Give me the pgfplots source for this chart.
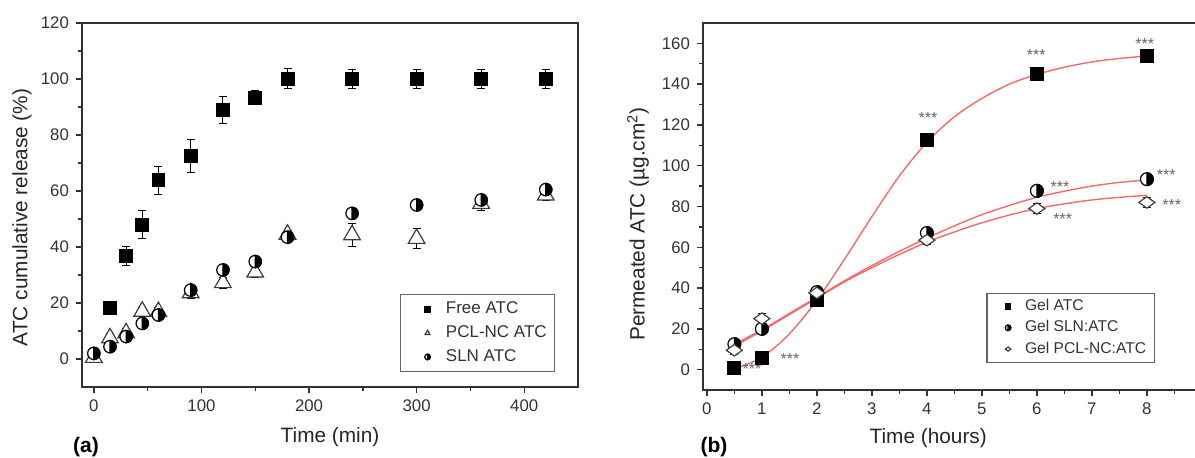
\documentclass[border=0pt]{standalone}
\usepackage{fontspec}
\setmainfont{Liberation Sans}
\usepackage{pgfplots}
\usepackage{pgfplotstable}
\pgfplotsset{compat=1.18}
\usetikzlibrary{plotmarks}

\definecolor{axgray}{RGB}{50,50,50}
\definecolor{fitred}{RGB}{245,105,105}
\definecolor{mkgray}{RGB}{60,60,60}

\pgfdeclareplotmark{halfcirc}{%
  \pgfpathcircle{\pgfpointorigin}{\pgfplotmarksize}%
  \pgfsetfillcolor{white}%
  \pgfusepathqfillstroke
  \pgfpathmoveto{\pgfqpoint{0pt}{\pgfplotmarksize}}%
  \pgfpatharc{90}{-90}{\pgfplotmarksize}%
  \pgfpathclose
  \pgfsetfillcolor{black}%
  \pgfusepathqfillstroke
}
\pgfdeclareplotmark{wdiamond}{%
  \pgfpathmoveto{\pgfqpoint{\pgfplotmarksize}{0pt}}%
  \pgfpathlineto{\pgfqpoint{0pt}{.72\pgfplotmarksize}}%
  \pgfpathlineto{\pgfqpoint{-\pgfplotmarksize}{0pt}}%
  \pgfpathlineto{\pgfqpoint{0pt}{-.72\pgfplotmarksize}}%
  \pgfpathclose
  \pgfsetfillcolor{white}%
  \pgfusepathqfillstroke
}

% ---------- panel (a) data ----------
\pgfplotstableread{
t y e
15 18.2 0.8
30 36.8 3.3
45 47.9 5
60 63.9 5
90 72.5 6
120 88.9 4.8
150 93.3 2.5
180 100.1 3.5
240 100 3.5
300 100 3.5
360 100 3.5
420 100 3.5
}\freeatc
\pgfplotstableread{
t y e
0 0.5 1.5
15 7.5 1.5
30 9.3 1.5
45 17 1.5
60 16.9 1.5
90 23.6 2
120 27.2 2
150 31 2
180 44.5 1.5
240 44.3 4
300 43 3.5
360 55.5 2.5
420 58.5 2
}\pclatc
\pgfplotstableread{
t y
0 2
15 4.4
30 8
45 12.7
60 15.7
90 24.6
120 31.8
150 34.8
180 43.5
240 52
300 55
360 56.8
420 60.5
}\slnatc

% ---------- panel (b) data ----------
\pgfplotstableread{
t y e
0.5 0.8 1
1 5.7 1
2 34 1.5
4 112.9 1.5
6 145 1.5
8 153.8 1.5
}\gelatc
\pgfplotstableread{
t y e
0.5 12.5 1.5
1 20 1.5
2 38 1.5
4 67 1.5
6 87.7 2
8 93.4 1.5
}\gelsln
\pgfplotstableread{
t y e
0.5 9.5 2
1 25 2.5
2 37.6 2
4 63.5 2
6 79 2.5
8 82 2.5
}\gelpcl
\pgfplotstableread{
t y
0.5 0.3
1 6
1.5 17.5
2 34
2.5 54
3 75
3.5 95
4 111.5
4.5 124
5 133
5.5 140
6 144.8
6.5 148.3
7 150.9
7.5 152.6
8 153.8
}\fitatc
\pgfplotstableread{
t y
0.5 12.5
1 19.5
1.5 27.5
2 35.5
2.5 43.5
3 51
3.5 58
4 64.5
4.5 70.5
5 76
5.5 80.5
6 84.5
6.5 87.5
7 90
7.5 91.8
8 93
}\fitsln
\pgfplotstableread{
t y
0.5 11.5
1 19
1.5 27
2 35
2.5 43
3 50
3.5 56.5
4 62.5
4.5 67.5
5 72
5.5 75.8
6 79
6.5 81.3
7 83.2
7.5 84.5
8 85.5
}\fitpcl

\pgfplotsset{
  myaxis/.style={
    scale only axis,
    axis line style={axgray, line width=0.9pt},
    tick align=outside,
    xtick pos=bottom, ytick pos=left,
    major tick length=3pt, minor tick length=2pt,
    every tick/.style={axgray, line width=0.7pt},
    tick label style={font=\fontsize{8.4}{10}\selectfont, text=axgray},
    label style={font=\fontsize{10.4}{12}\selectfont, text=black!85},
    /pgf/number format/assume math mode=true,
    legend cell align=left,
    error bars/error bar style={black, line width=0.5pt},
    error bars/error mark options={rotate=90, mark size=2pt, black, line width=0.5pt},
  },
}
\tikzset{stars/.style={font=\fontsize{8}{9}\selectfont, text=black!60, yshift=-1.5pt, inner sep=0pt}}

\begin{document}
\begin{tikzpicture}
\path[use as bounding box] (0,0) rectangle (597.5pt,229pt);
\clip (0,0) rectangle (597.5pt,229pt);

% ===================== (a) =====================
\begin{axis}[myaxis,
  at={(41pt,35.5pt)}, anchor=south west,
  width=248pt, height=182pt,
  xmin=-11, xmax=450, ymin=-10, ymax=120,
  xtick={0,100,200,300,400}, minor x tick num=1,
  ytick={0,20,40,60,80,100,120}, minor y tick num=1,
  xlabel={Time (min)}, ylabel={ATC cumulative release (\%)},
  x label style={at={(axis description cs:0.5,-0.137)}, anchor=center},
  y label style={at={(axis description cs:-0.121,0.466)}, anchor=center},
  legend style={at={(0.641,0.255)}, anchor=north west, draw=black!60, line width=0.6pt,
    font=\fontsize{8.5}{10}\selectfont, text=black!80, inner xsep=2pt, inner ysep=1.5pt,
    row sep=0.5pt},
  legend image code/.code={%
    \path[draw=none, fill=none] (0pt,0pt) -- (18.7pt,0pt);
    \draw[#1, mark size=1.4pt] plot coordinates {(11.5pt,0pt)};},
]
\addplot[only marks, mark=square*, mark size=3.2pt, black,
  error bars/.cd, y dir=both, y explicit]
  table[x=t, y=y, y error=e]{\freeatc};
\addlegendentry{Free ATC}
\addplot[only marks, mark=triangle*, mark size=4.8pt, mkgray, line width=0.6pt,
  mark options={fill=white},
  error bars/.cd, y dir=both, y explicit]
  table[x=t, y=y, y error=e]{\pclatc};
\addlegendentry{PCL-NC ATC\hspace{3pt}}
\addplot[only marks, mark=halfcirc, mark size=3.1pt, black, line width=0.6pt]
  table[x=t, y=y]{\slnatc};
\addlegendentry{SLN ATC}
\end{axis}

% ===================== (b) =====================
\begin{axis}[myaxis,
  at={(351.5pt,34pt)}, anchor=south west,
  width=257.7pt, height=183.5pt,
  xmin=-0.07, xmax=9.3, ymin=-10, ymax=170,
  xtick={0,1,2,3,4,5,6,7,8,9}, minor x tick num=1,
  ytick={0,20,40,60,80,100,120,140,160}, minor y tick num=1,
  xlabel={Time (hours)}, ylabel={Permeated ATC (µg.cm\textsuperscript{2})},
  x label style={at={(axis description cs:0.437,-0.13)}, anchor=center},
  y label style={at={(axis description cs:-0.126,0.452)}, anchor=center},
  legend style={at={(0.55,0.265)}, anchor=north west, draw=black!60, line width=0.6pt,
    font=\fontsize{7.8}{9}\selectfont, text=black!80, inner xsep=2pt, inner ysep=1pt,
    row sep=-0.5pt},
  legend image code/.code={%
    \path[draw=none, fill=none] (0pt,0pt) -- (15pt,0pt);
    \draw[#1, mark size=1.4pt] plot coordinates {(8.5pt,0pt)};},
]
\addplot[only marks, mark=square*, mark size=3.25pt, black,
  error bars/.cd, y dir=both, y explicit]
  table[x=t, y=y, y error=e]{\gelatc};
\addlegendentry{Gel ATC}
\addplot[only marks, mark=halfcirc, mark size=3.2pt, black, line width=0.6pt,
  error bars/.cd, y dir=both, y explicit]
  table[x=t, y=y, y error=e]{\gelsln};
\addlegendentry{Gel SLN:ATC}
\addplot[only marks, mark=wdiamond, mark size=4pt, mkgray, line width=0.6pt,
  error bars/.cd, y dir=both, y explicit]
  table[x=t, y=y, y error=e]{\gelpcl};
\addlegendentry{Gel PCL-NC:ATC\hspace{8pt}}

\addplot[fitred, line width=0.7pt, smooth, no marks, forget plot] table[x=t, y=y]{\fitatc};
\addplot[fitred, line width=0.7pt, smooth, no marks, forget plot] table[x=t, y=y]{\fitsln};
\addplot[fitred, line width=0.7pt, smooth, no marks, forget plot] table[x=t, y=y]{\fitpcl};

\node[stars] at (axis cs:0.82,1.6) {***};
\node[stars] at (axis cs:1.51,6.5) {***};
\node[stars] at (axis cs:4.02,124.9) {***};
\node[stars] at (axis cs:5.99,155.6) {***};
\node[stars] at (axis cs:7.96,161) {***};
\node[stars] at (axis cs:6.42,90.8) {***};
\node[stars] at (axis cs:6.47,75.2) {***};
\node[stars] at (axis cs:8.35,97) {***};
\node[stars] at (axis cs:8.45,82) {***};
\end{axis}

\node[font=\bfseries\fontsize{10.5}{12}\selectfont] at (43pt,5.5pt) {(a)};
\node[font=\bfseries\fontsize{10.5}{12}\selectfont] at (357pt,5.5pt) {(b)};
\end{tikzpicture}
\end{document}
